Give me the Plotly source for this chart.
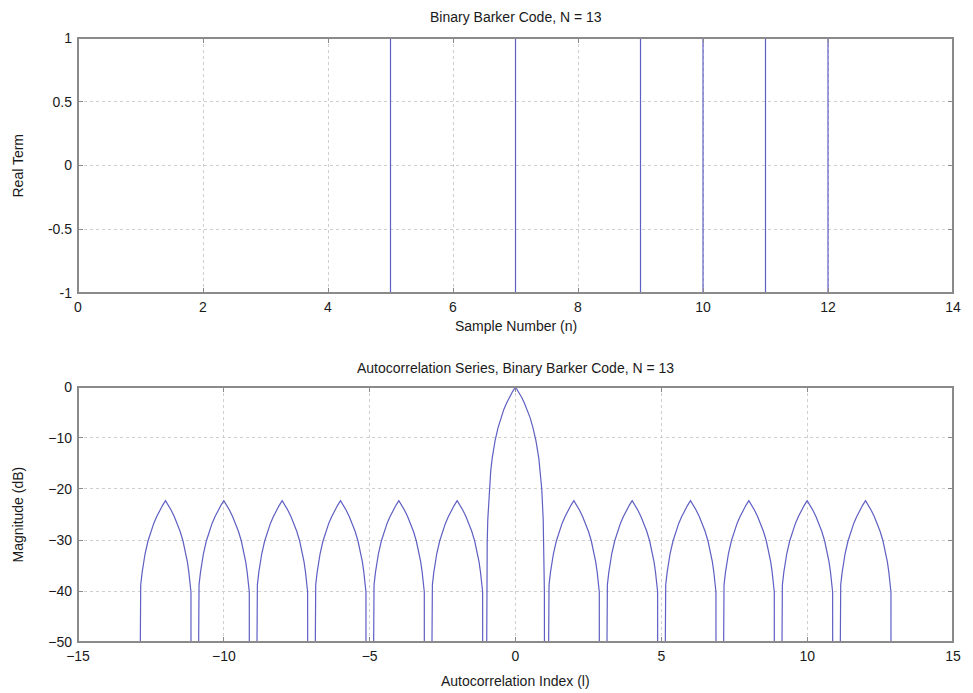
import plotly.graph_objects as go

# ---------------- data ----------------
# Top panel: 13-chip binary Barker code, one value per sample number
sample_n = [0, 1, 2, 3, 4, 5, 6, 7, 8, 9, 10, 11, 12, 13]
barker_code = [1, 1, 1, 1, 1, -1, -1, 1, 1, -1, 1, -1, 1, 1]

# Bottom panel: autocorrelation magnitude (dB)
# main lobe profile (offset from lobe centre, dB); last point drops below the axis floor
mainlobe_offsets = [0.0, 0.1, 0.2, 0.3, 0.4, 0.5, 0.6, 0.7, 0.8, 0.85, 0.9, 0.95, 0.97, 0.99, 0.995]
mainlobe_db = [0.0, -0.9, -1.9, -3.1, -4.4, -6.0, -8.0, -10.5, -14.0, -16.5, -20.0, -26.0, -30.5, -40.0, -60.0]
# side lobe profile (offset from lobe peak, dB)
sidelobe_offsets = [0.0, 0.1, 0.2, 0.3, 0.4, 0.5, 0.6, 0.7, 0.75, 0.8, 0.85, 0.873, 0.875]
sidelobe_db = [-22.3, -23.2, -24.2, -25.4, -26.7, -28.3, -30.2, -32.7, -34.3, -36.3, -38.8, -40.2, -60.0]
main_center = 0
sidelobe_centers = [-12, -10, -8, -6, -4, -2, 2, 4, 6, 8, 10, 12]

# tick labels
top_xticks = [0, 2, 4, 6, 8, 10, 12, 14]
top_yticks = [-1, -0.5, 0, 0.5, 1]
top_yticklabels = ["-1", "-0.5", "0", "0.5", "1"]
bot_xticks = [-15, -10, -5, 0, 5, 10, 15]
bot_yticks = [-50, -40, -30, -20, -10, 0]

# ---------------- build lobes ----------------
def lobe(center, offs, vals):
    xs = [center - o for o in reversed(offs)] + [center + o for o in offs[1:]]
    ys = list(reversed(vals)) + list(vals[1:])
    return xs, ys

acf_x, acf_y = [], []
lobes = [(c, sidelobe_offsets, sidelobe_db) for c in sidelobe_centers]
lobes.append((main_center, mainlobe_offsets, mainlobe_db))
lobes.sort(key=lambda t: t[0])
for c, o, v in lobes:
    xs, ys = lobe(c, o, v)
    acf_x += xs + [None]
    acf_y += ys + [None]

LINE = "rgb(95,95,195)"
BOX = "#8a8a8a"
FONT = "Liberation Sans, Arial, sans-serif"
TXT = "#1a1a1a"

fig = go.Figure()
fig.add_trace(go.Scatter(x=sample_n, y=barker_code, mode="lines",
                         line=dict(shape="hv", color=LINE, width=1.2),
                         xaxis="x", yaxis="y", showlegend=False, hoverinfo="skip"))
fig.add_trace(go.Scatter(x=acf_x, y=acf_y, mode="lines",
                         line=dict(color=LINE, width=1.2), connectgaps=False,
                         xaxis="x2", yaxis="y2", showlegend=False, hoverinfo="skip"))

ax = dict(showline=False, mirror="allticks",
          ticks="inside", ticklen=5, tickcolor=BOX, tickwidth=1,
          showgrid=True, gridcolor="#cfcfcf", griddash="dot", gridwidth=1,
          zeroline=False, fixedrange=True,
          tickfont=dict(family=FONT, size=14, color=TXT))
xax = dict(ax, ticklabelstandoff=4)
yax = dict(ax, ticklabelstandoff=5)

top_dom = [0.5778, 1.0]
bot_dom = [0.0, 0.4222]

fig.update_layout(
    width=973, height=693,
    margin=dict(l=78, r=16, t=38, b=51),
    paper_bgcolor="white", plot_bgcolor="white",
    xaxis=dict(xax, domain=[0, 1], range=[0, 14], tickvals=top_xticks, anchor="y"),
    yaxis=dict(yax, domain=top_dom, range=[-1, 1], tickvals=top_yticks,
               ticktext=top_yticklabels, anchor="x"),
    xaxis2=dict(xax, domain=[0, 1], range=[-15, 15], tickvals=bot_xticks, anchor="y2"),
    yaxis2=dict(yax, domain=bot_dom, range=[-50, 0], tickvals=bot_yticks, anchor="x2"),
)

# axes box drawn above the data (as in the original, where the box hides the +/-1 levels)
for xr, yr in (("x", "y"), ("x2", "y2")):
    fig.add_shape(type="rect", xref=f"{xr} domain", yref=f"{yr} domain",
                  x0=0, x1=1, y0=0, y1=1, layer="above",
                  line=dict(color=BOX, width=2), fillcolor="rgba(0,0,0,0)")

def ann(text, x, y, xshift=0, yshift=0, angle=0):
    fig.add_annotation(text=text, xref="paper", yref="paper", x=x, y=y,
                       xanchor="center", yanchor="middle", xshift=xshift, yshift=yshift,
                       textangle=angle, showarrow=False,
                       font=dict(family=FONT, size=14, color=TXT))

ann("Binary Barker Code, N = 13", 0.5, top_dom[1], yshift=21)
ann("Sample Number (n)", 0.5, top_dom[0], yshift=-33)
ann("Real Term", 0, (top_dom[0] + top_dom[1]) / 2, xshift=-60, angle=-90)
ann("Autocorrelation Series, Binary Barker Code, N = 13", 0.5, bot_dom[1], yshift=19)
ann("Autocorrelation Index (l)", 0.5, bot_dom[0], yshift=-39)
ann("Magnitude (dB)", 0, (bot_dom[0] + bot_dom[1]) / 2, xshift=-60, angle=-90)

fig.write_html("out.html")
